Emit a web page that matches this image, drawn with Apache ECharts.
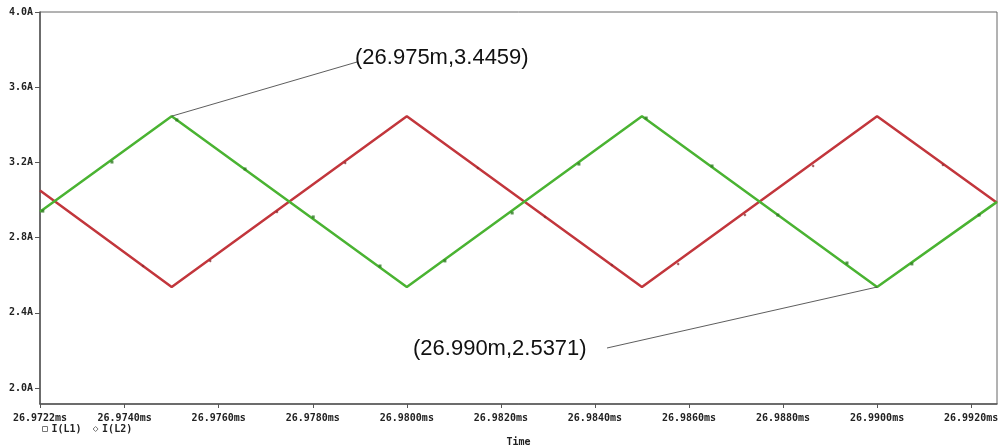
<!DOCTYPE html>
<html>
<head>
<meta charset="utf-8">
<script src="https://cdn.jsdelivr.net/npm/echarts@6/dist/echarts.min.js"></script>
<style>html,body{margin:0;padding:0;background:#fff}#c{width:999px;height:445px}</style>
</head>
<body>
<div id="c"></div>
<script>
// ---- data (time in ms, current in A) ----
const timeVertices = [26.9722, 26.9750, 26.9800, 26.9850, 26.9900, 26.99255];
const iL1Values    = [2.937, 3.4459, 2.5371, 3.4459, 2.5371, 2.990];   // green
const iL2Values    = [3.050, 2.5371, 3.4459, 2.5371, 3.4459, 2.985];   // red

const iL1MarkerTimes = [26.97226, 26.97373, 26.97511, 26.97656, 26.97801, 26.97943, 26.98081, 26.98224, 26.98366, 26.98509, 26.98649, 26.98789, 26.98936, 26.99074, 26.99217];
const iL1MarkerVals  = [2.941, 3.202, 3.426, 3.165, 2.910, 2.649, 2.676, 2.931, 3.191, 3.436, 3.181, 2.920, 2.665, 2.660, 2.920];
const iL2MarkerTimes = [26.97439, 26.97582, 26.97724, 26.97869, 26.98151, 26.98294, 26.98436, 26.98577, 26.98719, 26.98864, 26.99140];
const iL2MarkerVals  = [2.649, 2.676, 2.936, 3.197, 3.170, 2.910, 2.654, 2.660, 2.920, 3.181, 3.186];

const xTickValues = [26.9722, 26.9740, 26.9760, 26.9780, 26.9800, 26.9820, 26.9840, 26.9860, 26.9880, 26.9900, 26.9920];
const yTickValues = [2.0, 2.4, 2.8, 3.2, 3.6, 4.0];

const annotTimes  = [26.975, 26.990];
const annotValues = [3.4459, 2.5371];
const annotTexts  = ['(26.975m,3.4459)', '(26.990m,2.5371)'];

const seriesNames = ['I(L1)', 'I(L2)'];

// ---- chart ----
const GREEN = '#4ab332', RED = '#c2363c';
const monoFont = {fontFamily: 'DejaVu Sans Mono', fontWeight: 'bold', fontSize: 10, color: '#222'};
const zip = (a, b) => a.map((v, i) => [v, b[i]]);

const chart = echarts.init(document.getElementById('c'), null, {renderer: 'canvas'});
chart.setOption({
  animation: false,
  backgroundColor: '#fff',
  grid: {left: 40, right: 2, top: 12, bottom: 41, show: true, borderColor: '#666', borderWidth: 1,
    containLabel: false, outerBoundsMode: 'none'},
  legend: {
    left: 37, top: 419, itemWidth: 5, itemHeight: 5, itemGap: 11,
    textStyle: Object.assign({}, monoFont, {padding: [0, 0, 0, -1]}),
    data: [
      {name: seriesNames[0], icon: 'rect', itemStyle: {color: '#fff', borderColor: '#777', borderWidth: 1}},
      {name: seriesNames[1], icon: 'diamond', itemStyle: {color: '#fff', borderColor: '#777', borderWidth: 1}}
    ]
  },
  xAxis: {
    type: 'value', min: timeVertices[0], max: timeVertices[timeVertices.length - 1],
    name: 'Time', nameLocation: 'middle', nameGap: 33, nameTextStyle: monoFont,
    axisLine: {show: true, onZero: false, lineStyle: {color: '#555', width: 1.5}},
    axisTick: {show: true, inside: false, length: 4, customValues: xTickValues, lineStyle: {color: '#555'}},
    axisLabel: Object.assign({}, monoFont, {customValues: xTickValues, margin: 9, showMinLabel: true, showMaxLabel: true,
      hideOverlap: false, formatter: v => v.toFixed(4) + 'ms'}),
    splitLine: {show: false}
  },
  yAxis: {
    type: 'value', min: 1.915, max: 4.0,
    axisLine: {show: true, onZero: false, lineStyle: {color: '#555', width: 1.5}},
    axisTick: {show: true, inside: false, length: 5, customValues: yTickValues, lineStyle: {color: '#555'}},
    axisLabel: Object.assign({}, monoFont, {customValues: yTickValues, margin: 7, showMaxLabel: true,
      formatter: v => v.toFixed(1) + 'A'}),
    splitLine: {show: false}
  },
  series: [
    {name: seriesNames[0], type: 'line', data: zip(timeVertices, iL1Values), showSymbol: false,
      lineStyle: {color: GREEN, width: 2.5}, itemStyle: {color: GREEN}, z: 3},
    {name: seriesNames[1], type: 'line', data: zip(timeVertices, iL2Values), showSymbol: false,
      lineStyle: {color: RED, width: 2.5}, itemStyle: {color: RED}, z: 2},
    {name: seriesNames[0] + ' markers', type: 'scatter', data: zip(iL1MarkerTimes, iL1MarkerVals),
      symbol: 'rect', symbolSize: 3, itemStyle: {color: '#2e7a22'}, z: 4, silent: true},
    {name: seriesNames[1] + ' markers', type: 'scatter', data: zip(iL2MarkerTimes, iL2MarkerVals),
      symbol: 'diamond', symbolSize: 3, itemStyle: {color: '#8a2a2e'}, z: 4, silent: true}
  ]
});

// annotations: leader line from data point to label
const labelAnchors = [{x: 357, y: 62, textX: 355, textY: 58, align: 'left'}, {x: 607, y: 348, textX: 413, textY: 349, align: 'left'}];
const graphics = [];
annotTimes.forEach((t, i) => {
  const p = chart.convertToPixel({gridIndex: 0}, [t, annotValues[i]]);
  const a = labelAnchors[i];
  graphics.push({type: 'line', shape: {x1: p[0], y1: p[1], x2: a.x, y2: a.y}, style: {stroke: '#333', lineWidth: 0.8}, z: 10});
  graphics.push({type: 'text', x: a.textX, y: a.textY, style: {text: annotTexts[i], font: '22px "Liberation Sans", Arial, sans-serif', fill: '#111', textAlign: a.align, textVerticalAlign: 'middle'}, z: 10});
});
chart.setOption({graphic: graphics});
</script>
</body>
</html>
